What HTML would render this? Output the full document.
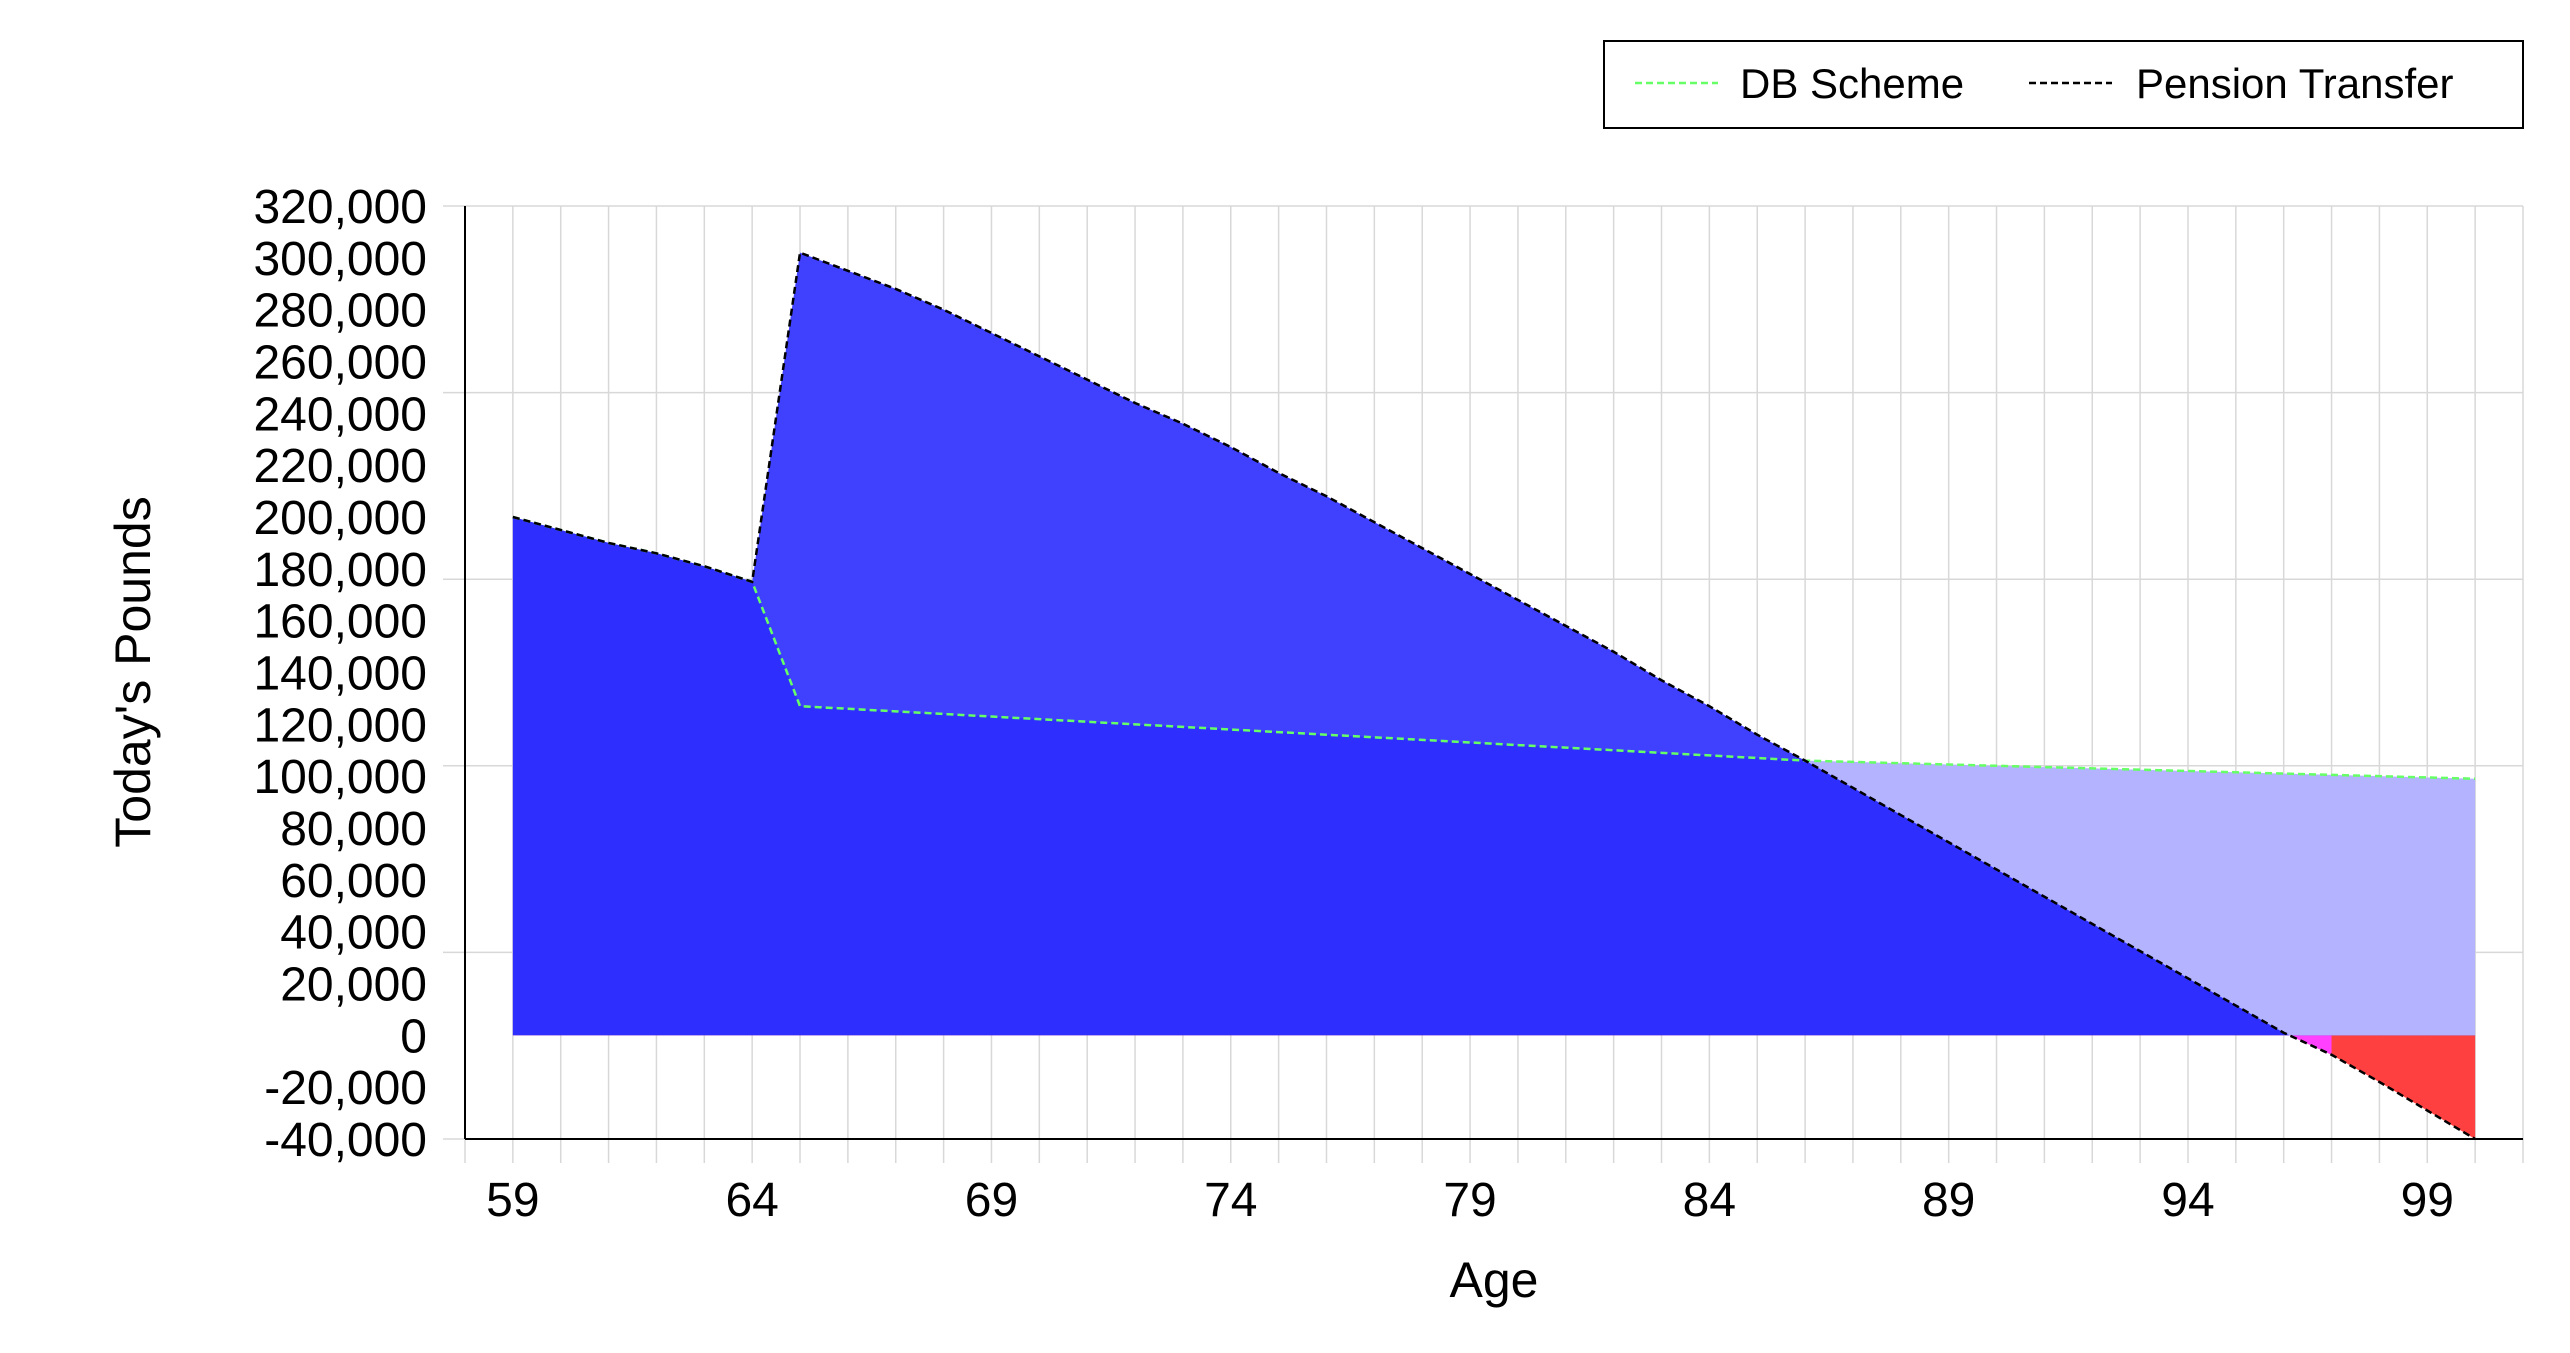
<!DOCTYPE html>
<html><head><meta charset="utf-8"><style>
html,body{margin:0;padding:0;background:#fff}
svg{display:block;font-family:"Liberation Sans",Arial,sans-serif}
</style></head><body>
<svg id="chart" width="2570" height="1353" viewBox="0 0 2570 1353" xmlns="http://www.w3.org/2000/svg">
<g id="grid"></g>
<g id="areas"></g>
<g id="lines"></g>
<g id="axes"></g>
<g>
<rect x="1604" y="41" width="919" height="87" fill="#fff" stroke="#000" stroke-width="2"/>
<line x1="1635" y1="83" x2="1718" y2="83" stroke="#66ff66" stroke-width="2.5" stroke-dasharray="7,4"/>
<text x="1740" y="98" font-size="42">DB Scheme</text>
<line x1="2029" y1="83" x2="2112" y2="83" stroke="#000" stroke-width="2.5" stroke-dasharray="7,4"/>
<text x="2136" y="98" font-size="42">Pension Transfer</text>
</g>
<text x="1494" y="1297" font-size="50" text-anchor="middle">Age</text>
<text transform="translate(150,672) rotate(-90)" font-size="50" text-anchor="middle">Today's Pounds</text>
</svg>
<script>
const ages = [59,60,61,62,63,64,65,66,67,68,69,70,71,72,73,74,75,76,77,78,79,80,81,82,83,84,85,86,87,88,89,90,91,92,93,94,95,96,97,98,99,100];
const dbScheme = [200000,195000,190000,186000,181000,175000,127000,126000,125000,124000,123000,122000,121000,120000,119000,118000,117000,116000,115000,114000,113000,112000,111000,110000,109000,108000,107000,106000,105500,105000,104500,104000,103500,103000,102500,102000,101500,101000,100500,100000,99500,99000];
const transfer = [200000,195000,190000,186000,181000,175000,302000,295000,288000,280000,271000,262000,253000,244000,236000,227000,217000,208000,198000,188000,178000,168000,158000,148000,137000,127000,116000,106000,95500,85000,74500,64000,53500,43000,32500,22000,11500,1000,-7500,-18000,-29000,-40000];
const yTicks = [320000,300000,280000,260000,240000,220000,200000,180000,160000,140000,120000,100000,80000,60000,40000,20000,0,-20000,-40000];
const yGrid = [320000,248000,176000,104000,32000,-40000];
const xTicks = [59,64,69,74,79,84,89,94,99];
const xMin=58,xMax=101,yMin=-40000,yMax=320000;
const L=465,R=2523,T=206,B=1139;
const sx=a=>L+(a-xMin)/(xMax-xMin)*(R-L);
const sy=v=>B-(v-yMin)/(yMax-yMin)*(B-T);
const NS="http://www.w3.org/2000/svg";
function mk(tag,attrs,parent){const e=document.createElementNS(NS,tag);for(const k in attrs)e.setAttribute(k,attrs[k]);parent.appendChild(e);return e;}
const grid=document.getElementById('grid'),areas=document.getElementById('areas'),lines=document.getElementById('lines'),axes=document.getElementById('axes');
for(let a=xMin;a<=xMax;a++){const g=mk('line',{x1:sx(a),x2:sx(a),y1:T,y2:B+24,stroke:'#d8d8d8','stroke-width':1.5},grid);

}
yGrid.forEach(v=>{const g=mk('line',{x1:L-22,x2:R,y1:sy(v),y2:sy(v),stroke:'#d8d8d8','stroke-width':1.5},grid);

});
const defs=mk('defs',{},areas);
const z=sy(0),x0=sx(ages[0]),x1=sx(ages[ages.length-1]);
const ptsDB=ages.map((a,i)=>sx(a)+','+sy(dbScheme[i])).join(' ');
const ptsTR=ages.map((a,i)=>sx(a)+','+sy(transfer[i])).join(' ');
const areaDB=`${x0},${z} ${ptsDB} ${x1},${z}`;
const areaTR=`${x0},${z} ${ptsTR} ${x1},${z}`;
const c1=mk('clipPath',{id:'clipTR'},defs);mk('polygon',{points:areaTR},c1);
const c2=mk('clipPath',{id:'clipPos'},defs);mk('rect',{x:0,y:0,width:2570,height:z},c2);
const c3=mk('clipPath',{id:'clipNeg'},defs);mk('rect',{x:0,y:z,width:2570,height:1353-z},c3);
const c4=mk('clipPath',{id:'clipMag'},defs);mk('rect',{x:0,y:z,width:sx(97),height:1353-z},c4);
const p1=mk('polygon',{points:areaDB,fill:'#b3b3ff'},areas);


const gp=mk('g',{'clip-path':'url(#clipPos)'},areas);
const p2=mk('polygon',{points:areaTR,fill:'#4040ff'},gp);


const gc=mk('g',{'clip-path':'url(#clipTR)'},gp);
const p3=mk('polygon',{points:areaDB,fill:'#2e2eff'},gc);


const gn=mk('g',{'clip-path':'url(#clipNeg)'},areas);
const p4=mk('polygon',{points:areaTR,fill:'#ff4040'},gn);


const gm=mk('g',{'clip-path':'url(#clipMag)'},gn);
const p5=mk('polygon',{points:areaTR,fill:'#ff40ff'},gm);


const ldb=mk('polyline',{points:ptsDB,fill:'none',stroke:'#66ff66','stroke-width':2.5,'stroke-dasharray':'7,4'},lines);


const ltr=mk('polyline',{points:ptsTR,fill:'none',stroke:'#000','stroke-width':2.5,'stroke-dasharray':'7,4'},lines);


const ya=mk('line',{x1:L,x2:L,y1:T,y2:B,stroke:'#000','stroke-width':2},axes);


const xa=mk('line',{x1:L,x2:R,y1:B,y2:B,stroke:'#000','stroke-width':2},axes);


yTicks.forEach(v=>{const t=mk('text',{x:427,y:sy(v)+17,'font-size':48,'text-anchor':'end'},axes);t.textContent=v.toLocaleString('en-GB');

});
xTicks.forEach(a=>{const t=mk('text',{x:sx(a),y:1216,'font-size':48,'text-anchor':'middle'},axes);t.textContent=a;

});
</script>
</body></html>
